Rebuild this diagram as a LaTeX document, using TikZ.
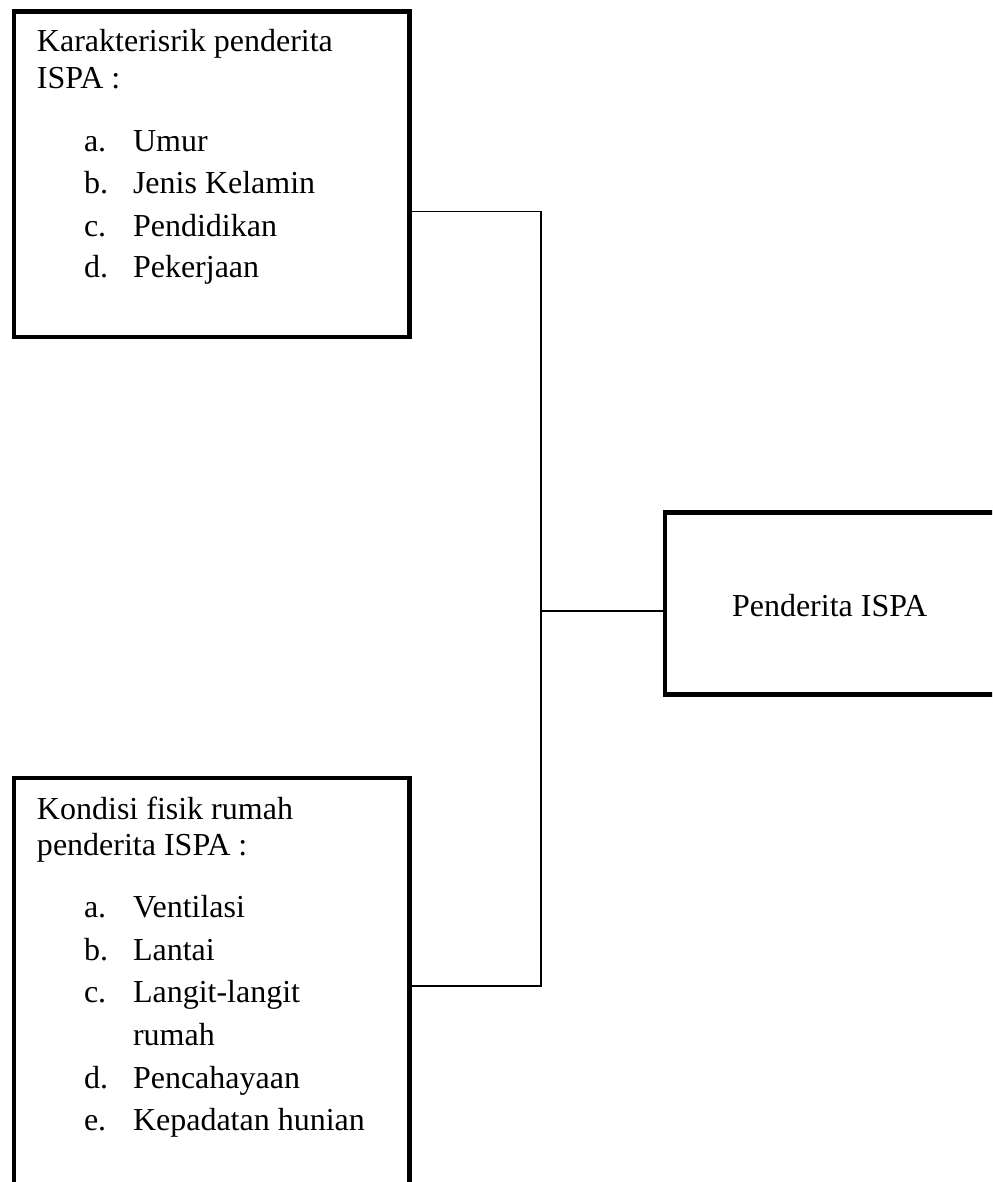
\documentclass[tikz,border=0pt]{standalone}
\usepackage{fontspec}
\setmainfont{Liberation Serif}
\begin{document}
\begin{tikzpicture}[x=0.375pt,y=-0.375pt,
  boxshape/.style={draw, rectangle, line width=1.76pt, inner sep=0pt, outer sep=0pt},
  txt/.style={anchor=base west, inner sep=0pt, outer sep=0pt, font=\fontsize{12}{14}\selectfont},
  link/.style={line width=0.65pt}]
\useasboundingbox (0,0) rectangle (992,1182);
\clip (0,0) rectangle (992,1182);
% boxes
\node[boxshape, minimum width=148.31pt, minimum height=122.06pt] (box1) at (211.75,174.25) {};
\node[boxshape, minimum width=148.31pt, minimum height=165pt] (box2) at (211.75,998) {};
\node[boxshape, minimum width=135pt, minimum height=68.25pt] (box3) at (845,603.5) {};
% texts box 1
\node[txt] (t1a) at (37,52) {Karakterisrik penderita};
\node[txt] (t1b) at (37,89) {ISPA :};
\node[txt] (l1a) at (84,152) {a.};
\node[txt] (i1a) at (133,152) {Umur};
\node[txt] (l1b) at (84,194) {b.};
\node[txt] (i1b) at (133,194) {Jenis Kelamin};
\node[txt] (l1c) at (84,237) {c.};
\node[txt] (i1c) at (133,237) {Pendidikan};
\node[txt] (l1d) at (84,278) {d.};
\node[txt] (i1d) at (133,278) {Pekerjaan};
% texts box 2
\node[txt] (t2a) at (37,819) {Kondisi fisik rumah};
\node[txt] (t2b) at (37,855) {penderita ISPA :};
\node[txt] (l2a) at (84,917) {a.};
\node[txt] (i2a) at (133,917) {Ventilasi};
\node[txt] (l2b) at (84,960) {b.};
\node[txt] (i2b) at (133,960) {Lantai};
\node[txt] (l2c) at (84,1002) {c.};
\node[txt] (i2c) at (133,1002) {Langit-langit};
\node[txt] (i2c2) at (133,1045) {rumah};
\node[txt] (l2d) at (84,1088) {d.};
\node[txt] (i2d) at (133,1088) {Pencahayaan};
\node[txt] (l2e) at (84,1130) {e.};
\node[txt] (i2e) at (133,1130) {Kepadatan hunian};
% text box 3
\node[txt] (t3) at (732,616) {Penderita ISPA};
% connectors
\coordinate (jtop) at (541,211.5);
\coordinate (jbot) at (541,986);
\coordinate (jmid) at (541,611);
\draw[link] (box1.east |- jtop) -- (jtop) -- (jbot) -- (box2.east |- jbot);
\draw[link] (jmid) -- (box3.west |- jmid);
\end{tikzpicture}
\end{document}
